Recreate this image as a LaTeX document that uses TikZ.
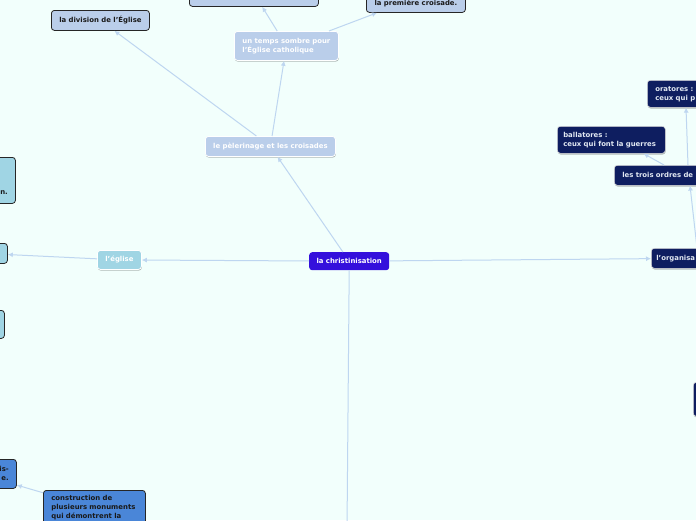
\documentclass[tikz,border=0pt]{standalone}
\usepackage{fontspec}
\setmainfont{DejaVu Sans}
\usetikzlibrary{calc,arrows.meta,shadows}
\definecolor{bg}{RGB}{242,255,252}
\definecolor{rootc}{RGB}{52,16,220}
\definecolor{cyanc}{RGB}{160,213,228}
\definecolor{steelc}{RGB}{186,206,234}
\definecolor{navyc}{RGB}{14,30,96}
\definecolor{bluec}{RGB}{74,134,216}
\definecolor{linec}{RGB}{190,214,240}
\definecolor{navytext}{RGB}{225,232,242}
\hyphenpenalty=10000
\exhyphenpenalty=10000
\begin{document}
\begin{tikzpicture}[x=1pt,y=-1pt,
  every node/.style={font=\bfseries\fontsize{6.9}{9}\selectfont},
  base/.style={rounded corners=3pt, inner sep=0pt, anchor=north west, align=left},
  shadowed/.style={drop shadow={shadow xshift=0.4pt, shadow yshift=-1.2pt, fill=black, opacity=0.28}},
  rootbox/.style={base, fill=rootc, text=white, align=center},
  mainbox/.style={base, shadowed, fill=#1, draw=white, line width=0.8pt, text=white},
  leafbox/.style={base, fill=#1, draw=black!85, line width=0.8pt, text=black!90},
  navybox/.style={base, shadowed, fill=navyc, draw=white!75!gray, line width=0.6pt, text=navytext},
  lefttext/.style={inner xsep=8pt, text width=#1},
  conn/.style={draw=linec, line width=1pt, -{Latex[length=5pt,width=5pt]}},
  connplain/.style={draw=linec, line width=1pt},
  frag/.style={inner sep=0pt}
]
\useasboundingbox (0,0) rectangle (696,520);
\fill[bg] (0,0) rectangle (696,520);
\clip (0,0) rectangle (696,520);

% nodes
\node[rootbox, minimum width=80pt, minimum height=18pt] (root) at (309,252) {la christinisation};
\node[mainbox=cyanc, align=center, minimum width=44pt, minimum height=19pt] (eglise) at (97,250) {l'église};
\node[leafbox=cyanc, minimum width=47pt, minimum height=20pt] (l3) at (-40,243) {};
\node[leafbox=cyanc, minimum width=75pt, minimum height=46pt] (l4) at (-60,157) {};
\node[frag, anchor=east, text=black!90] (l4t) at (8,193) {n.};
\node[leafbox=cyanc, minimum width=44pt, minimum height=28pt] (l5) at (-40,310) {};
\node[leafbox=bluec, minimum width=76pt, minimum height=29pt] (l6) at (-60,459) {};
\node[frag, anchor=east, align=right, text=black!90] (l6t) at (9,473) {is-\\e.};
\node[leafbox=bluec, lefttext=86pt, inner ysep=5pt] (constr) at (43,490) {construction de\\plusieurs monuments\\qui démontrent la\\};

\node[mainbox=steelc, align=center, minimum width=130pt, minimum height=20pt] (pel) at (205,136) {le pèlerinage et les croisades};
\node[mainbox=steelc, lefttext=88pt, minimum height=29pt] (sombre) at (234,31) {un temps sombre pour\\l'Église catholique};
\node[leafbox=steelc, align=center, minimum width=98pt, minimum height=20pt] (division) at (51,10) {la division de l'Église};
\node[leafbox=steelc, minimum width=129pt, minimum height=26pt] (top) at (189,-20) {};
\node[leafbox=steelc, align=center, minimum width=99pt, minimum height=18pt] (premiere) at (366,-6) {la première croisade.};

\node[navybox, text width=70pt, inner xsep=5pt, minimum height=20pt] (org) at (651,248) {l'organisa};
\node[navybox, lefttext=84pt, minimum height=20pt] (trois) at (614,165) {les trois ordres de};
\node[navybox, text width=96pt, inner xsep=6pt, minimum height=27pt] (ball) at (557,126) {ballatores :\\ceux qui font la guerres};
\node[navybox, lefttext=64pt, minimum height=27pt] (ora) at (647,80) {oratores :\\ceux qui p};
\node[navybox, minimum width=30pt, minimum height=34pt] (r17) at (693,382) {};

% connectors
\draw[conn] (root) -- (eglise);
\draw[conn] (eglise) -- (l3);
\draw[conn] (root) -- (pel);
\draw[conn] (pel) -- (sombre);
\draw[conn] (pel) -- (division);
\draw[conn] (sombre) -- (top);
\draw[conn] ($(sombre.north west)+(95,0)$) -- ($(premiere.south west)+(11,0)$);
\draw[conn] (root) -- (org);
\draw[conn] ($(org.north west)+(46,0)$) -- ($(trois.south west)+(76,0)$);
\draw[conn] ($(trois.north west)+(74,0)$) -- ($(ora.south west)+(39,0)$);
\draw[conn] ($(trois.north west)+(50,0)$) -- ($(ball.south east)+(-22,0)$);
\coordinate (down) at (347,530);
\draw[connplain] (root.south) -- (down);
\draw[conn] (constr) -- (l6);
\end{tikzpicture}
\end{document}
